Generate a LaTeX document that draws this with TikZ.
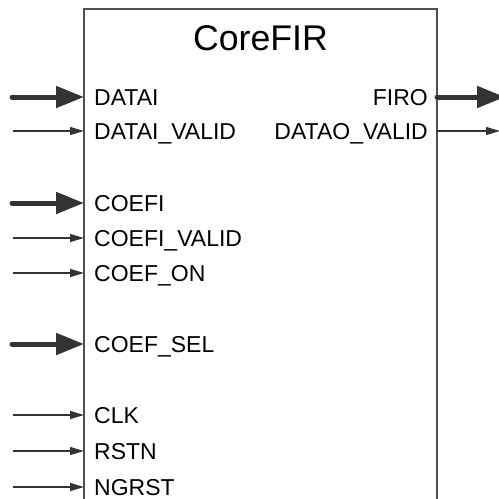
\documentclass[tikz,border=0pt]{standalone}
\usepackage{fontspec}
\setmainfont{Liberation Sans}
\usetikzlibrary{arrows.meta}
\definecolor{ink}{HTML}{333333}
\definecolor{boxc}{HTML}{505050}
\begin{document}
\begin{tikzpicture}[x=1pt,y=-1pt,
  lbl/.style={inner sep=0pt, text height=16.5pt, text depth=0pt, font=\fontsize{23}{27}\selectfont},
  bus/.style={draw=ink, line width=5pt, line cap=round, -{Triangle[length=28pt,width=21pt]}},
  sig/.style={draw=ink, line width=1.3pt, -{Triangle[length=14pt,width=8pt]}}]
\useasboundingbox (0,0) rectangle (499,499);
\clip (0,0) rectangle (499,499);
% box
\coordinate (bl) at (84,505);
\coordinate (tl) at (84,9);
\coordinate (tr) at (437,9);
\coordinate (br) at (437,505);
\draw[boxc, line width=1.3pt] (bl) -- (tl) -- (tr) -- (br);
\node[inner sep=0pt, text height=25pt, text depth=0pt, font=\fontsize{35.7}{40}\selectfont] (title) at (260.5,38) {CoreFIR};
% left ports
\foreach \nm/\txt/\y in {datai/DATAI/97, dataiv/DATAI\_VALID/131, coefi/COEFI/203, coefiv/COEFI\_VALID/238, coefon/COEF\_ON/273, coefsel/COEF\_SEL/344, clk/CLK/415, rstn/RSTN/451, ngrst/NGRST/487}{
  \coordinate (p-\nm) at (84,\y);
  \node[lbl, anchor=west] (l-\nm) at (94,\y) {\txt};
}
\foreach \nm/\y in {datai/97, coefi/203, coefsel/344}{
  \coordinate (s-\nm) at (12,\y);
  \draw[bus] (s-\nm) -- (p-\nm);
}
\foreach \nm/\y in {dataiv/131, coefiv/238, coefon/273, clk/415, rstn/451, ngrst/487}{
  \coordinate (s-\nm) at (13,\y);
  \draw[sig] (s-\nm) -- (p-\nm);
}
% right ports
\coordinate (p-firo) at (437,97);
\coordinate (p-datao) at (437,131);
\node[lbl, anchor=east] (l-firo) at (428,97) {FIRO};
\node[lbl, anchor=east] (l-datao) at (428,131) {DATAO\_VALID};
\coordinate (e-firo) at (505,97);
\coordinate (e-datao) at (500,131);
\draw[bus] (p-firo) -- (e-firo);
\draw[sig] (p-datao) -- (e-datao);
\end{tikzpicture}
\end{document}
